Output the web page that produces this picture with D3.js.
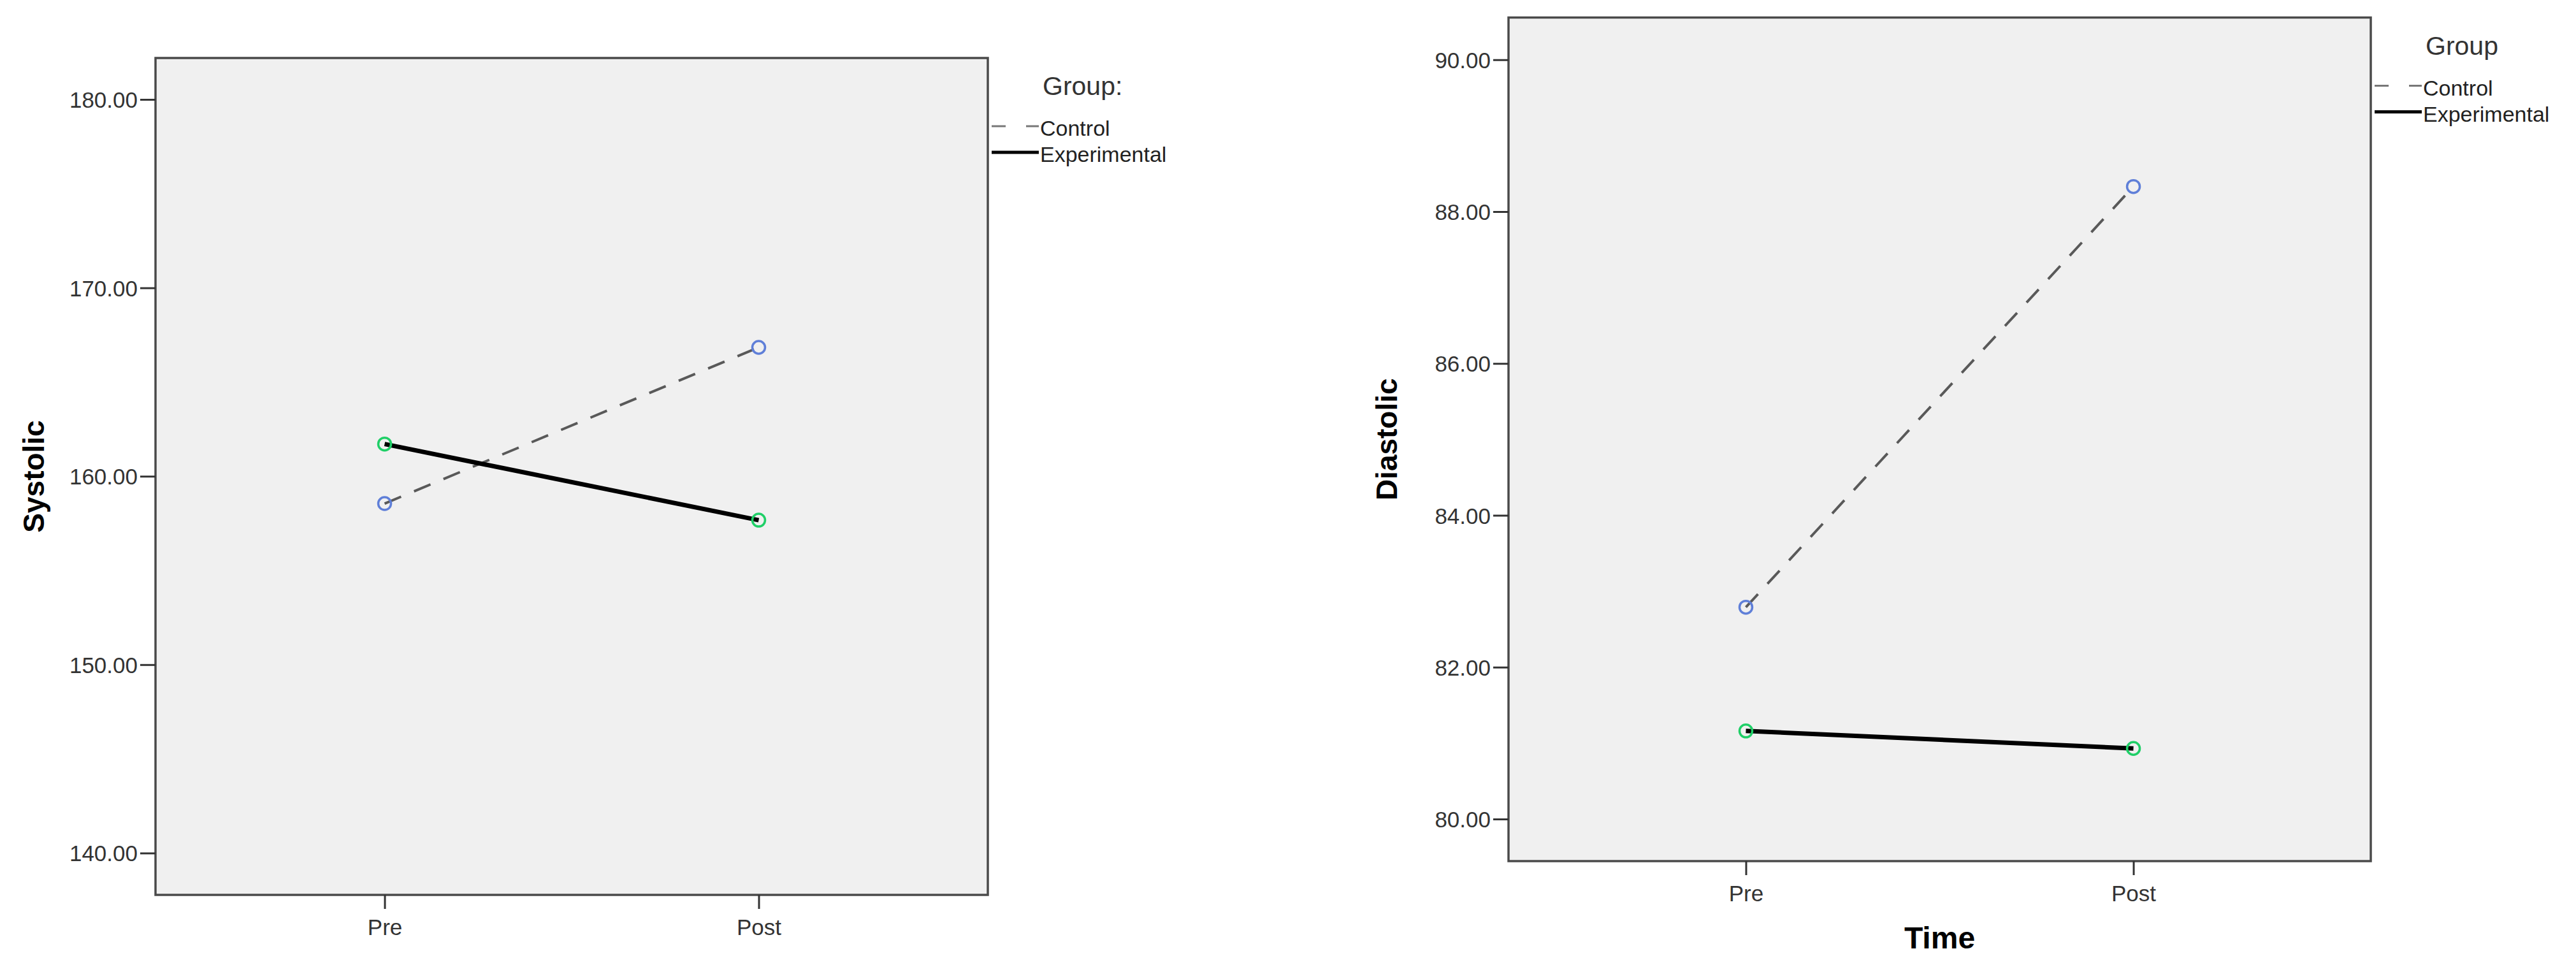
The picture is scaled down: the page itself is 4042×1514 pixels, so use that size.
<!DOCTYPE html>
<html>
<head>
<meta charset="utf-8">
<script src="https://cdn.jsdelivr.net/npm/d3@7"></script>
<style>
  html, body { margin: 0; padding: 0; background: #fff; }
  text { font-family: "Liberation Sans", Arial, sans-serif; }
</style>
</head>
<body>
<script>
// data
const times = ["Pre", "Post"]
const groups = ["Control", "Experimental"]

const systolicControl = [158.55, 166.84]
const systolicExperimental = [161.71, 157.67]
const systolicTicks = [140, 150, 160, 170, 180]

const diastolicControl = [82.79, 88.33]
const diastolicExperimental = [81.16, 80.93]
const diastolicTicks = [80, 82, 84, 86, 88, 90]

const width = 4042
const height = 1514

const svg = d3.select("body").append("svg")
    .attr("width", width)
    .attr("height", height)

const panels = [
    {
        frame: {x0: 244, x1: 1550, y0: 91, y1: 1404},
        domain: [137.78, 182.2],
        ticks: systolicTicks,
        series: [systolicControl, systolicExperimental],
        yTitle: "Systolic",
        xTitle: null,
        legendTitle: "Group:"
    },
    {
        frame: {x0: 2367, x1: 3720, y0: 27.5, y1: 1351},
        domain: [79.446, 90.556],
        ticks: diastolicTicks,
        series: [diastolicControl, diastolicExperimental],
        yTitle: "Diastolic",
        xTitle: "Time",
        legendTitle: "Group"
    }
]

const styles = {
    Control: {stroke: "#595959", width: 4, dash: "28,22", marker: "#5f7fd8"},
    Experimental: {stroke: "#000", width: 7, dash: null, marker: "#1fcf67"}
}

panels.forEach(drawPanel)

function drawPanel(p) {
    const f = p.frame

    const x = d3.scalePoint()
        .domain(times)
        .range([f.x0, f.x1])
        .padding(0.6125)

    const y = d3.scaleLinear()
        .domain(p.domain)
        .range([f.y1, f.y0])

    const g = svg.append("g")

    g.append("rect")
        .attr("x", f.x0)
        .attr("y", f.y0)
        .attr("width", f.x1 - f.x0)
        .attr("height", f.y1 - f.y0)
        .attr("fill", "#f0f0f0")
        .attr("stroke", "#4a4a4a")
        .attr("stroke-width", 3.5)

    // y axis
    const yAxis = g.append("g")
        .attr("transform", `translate(${f.x0},0)`)
        .call(d3.axisLeft(y).tickValues(p.ticks).tickFormat(d3.format(".2f")).tickSize(24).tickPadding(4))
    yAxis.select(".domain").remove()
    yAxis.selectAll(".tick line").attr("stroke", "#333").attr("stroke-width", 3)
    yAxis.selectAll(".tick text")
        .attr("fill", "#333")
        .style("font-size", "35px")
        .attr("dy", "0.36em")

    // x axis
    const xAxis = g.append("g")
        .attr("transform", `translate(0,${f.y1})`)
        .call(d3.axisBottom(x).tickSize(22).tickPadding(16))
    xAxis.select(".domain").remove()
    xAxis.selectAll(".tick line").attr("stroke", "#333").attr("stroke-width", 3)
    xAxis.selectAll(".tick text")
        .attr("fill", "#333")
        .style("font-size", "35px")

    // axis titles
    g.append("text")
        .attr("transform", `translate(${f.x0 - 175},${(f.y0 + f.y1) / 2}) rotate(-90)`)
        .attr("text-anchor", "middle")
        .style("font-size", "46px")
        .style("font-weight", "bold")
        .text(p.yTitle)

    if (p.xTitle) {
        g.append("text")
            .attr("x", (f.x0 + f.x1) / 2)
            .attr("y", f.y1 + 137)
            .attr("text-anchor", "middle")
            .style("font-size", "48px")
            .style("font-weight", "bold")
            .text(p.xTitle)
    }

    // lines and markers
    const line = d3.line()
        .x((d, i) => x(times[i]))
        .y(d => y(d))

    groups.forEach((name, gi) => {
        const s = styles[name]
        const vals = p.series[gi]

        g.append("path")
            .datum(vals)
            .attr("d", line)
            .attr("fill", "none")
            .attr("stroke", s.stroke)
            .attr("stroke-width", s.width)
            .attr("stroke-dasharray", s.dash)

        g.selectAll(null)
            .data(vals)
            .enter().append("circle")
            .attr("cx", (d, i) => x(times[i]))
            .attr("cy", d => y(d))
            .attr("r", 10)
            .attr("fill", "none")
            .attr("stroke", s.marker)
            .attr("stroke-width", 3.5)
    })

    // legend
    const lg = g.append("g").attr("transform", `translate(${f.x1},${f.y0})`)
    lg.append("text")
        .attr("x", 86)
        .attr("y", 58)
        .attr("fill", "#333")
        .style("font-size", "41px")
        .text(p.legendTitle)

    groups.forEach((name, gi) => {
        const s = styles[name]
        const by = 122 + gi * 41
        lg.append("line")
            .attr("x1", 6)
            .attr("x2", 80)
            .attr("y1", by - 15)
            .attr("y2", by - 15)
            .attr("stroke", name === "Control" ? "#777" : "#000")
            .attr("stroke-width", name === "Control" ? 3 : 5)
            .attr("stroke-dasharray", name === "Control" ? "22,32,20" : null)
        lg.append("text")
            .attr("x", 82)
            .attr("y", by)
            .attr("fill", "#222")
            .style("font-size", "34px")
            .text(name)
    })
}
</script>
</body>
</html>
